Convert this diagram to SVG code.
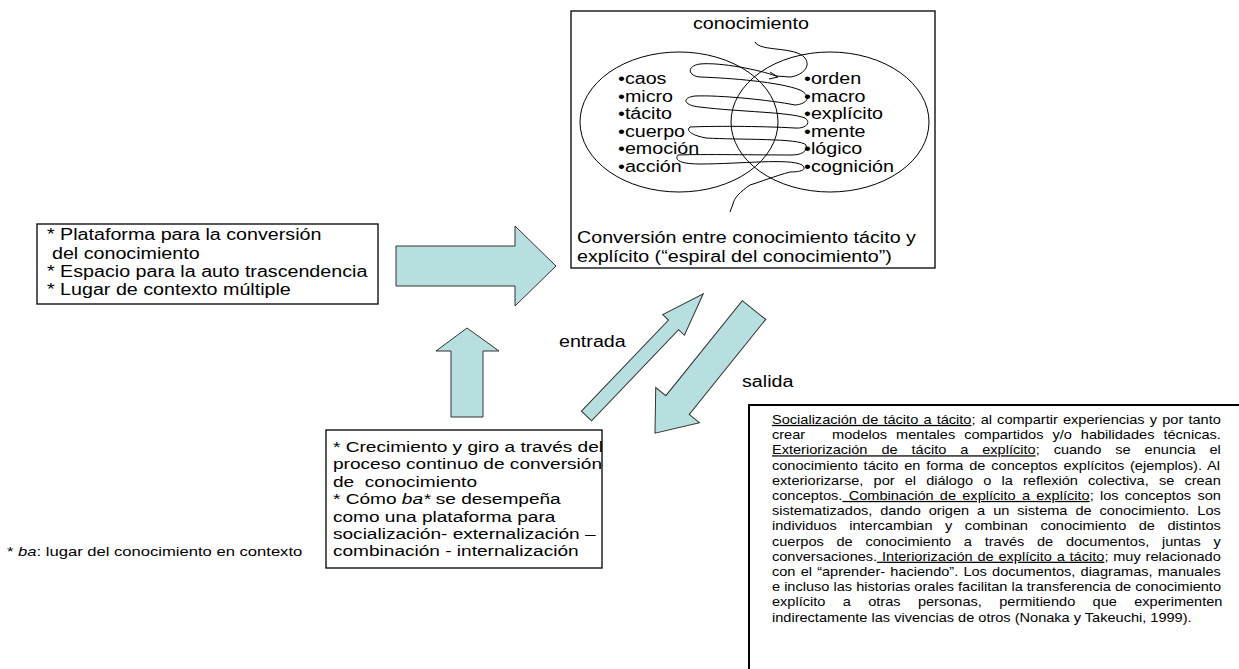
<svg xmlns="http://www.w3.org/2000/svg" width="1239" height="669" viewBox="0 0 1239 669">
<style>
.t{font-family:"Liberation Sans",Arial,sans-serif;fill:#000}
.f16{font-size:16px}
.f155{font-size:15.5px}
.f135{font-size:13.5px}
.f125{font-size:12.5px}
.box{fill:#fff;stroke:#000;stroke-width:1.3}
.arr{fill:#B7DFE0;stroke:#333;stroke-width:1}
.ln{fill:none;stroke:#000;stroke-width:1}
.u{text-decoration:underline}
</style>
<rect width="1239" height="669" fill="#fff"/>

<g id="espiral">
<rect class="box" x="571" y="11" width="364" height="257"/>
<text class="t f16" transform="translate(693,29) scale(1.23,1)">conocimiento</text>
<ellipse class="ln" cx="679" cy="122" rx="99" ry="70"/>
<ellipse class="ln" cx="830" cy="122" rx="99" ry="70"/>
<path class="ln" d="M 755,42 C 760,52 795,46 805,58 C 812,68 800,76 790,77 L 776,76 C 760,70 720,62 700,64 C 686,66 688,76 700,77 C 730,78 780,82 800,90 C 812,96 808,104 795,105 C 770,100 720,95 695,96 C 680,98 685,106 700,107 C 740,112 790,112 805,118 C 812,123 805,129 795,128 C 760,126 710,126 690,127 C 686,130 690,135 706,138 C 740,140 800,138 806,145 C 808,152 800,155 792,155 C 760,155 700,154 678,155 C 674,160 680,164 700,164 C 740,164 790,158 802,165 C 808,170 800,172 790,172 C 775,176 760,182 750,185 C 740,192 734,198 733,204 L 730,212"/>
<path class="ln" d="M 770,72 L 778,77 L 769,79"/>
<text class="t f16" transform="translate(618,84) scale(1.23,1)">•caos</text>
<text class="t f16" transform="translate(618,102) scale(1.23,1)">•micro</text>
<text class="t f16" transform="translate(618,119) scale(1.23,1)">•tácito</text>
<text class="t f16" transform="translate(618,137) scale(1.23,1)">•cuerpo</text>
<text class="t f16" transform="translate(618,154) scale(1.23,1)">•emoción</text>
<text class="t f16" transform="translate(618,172) scale(1.23,1)">•acción</text>
<text class="t f16" transform="translate(804,84) scale(1.23,1)">•orden</text>
<text class="t f16" transform="translate(804,102) scale(1.23,1)">•macro</text>
<text class="t f16" transform="translate(804,119) scale(1.23,1)">•explícito</text>
<text class="t f16" transform="translate(804,137) scale(1.23,1)">•mente</text>
<text class="t f16" transform="translate(804,154) scale(1.23,1)">•lógico</text>
<text class="t f16" transform="translate(804,172) scale(1.23,1)">•cognición</text>
<text class="t f16" transform="translate(577,243) scale(1.23,1)">Conversión entre conocimiento tácito y</text>
<text class="t f16" transform="translate(577,262) scale(1.23,1)">explícito (“espiral del conocimiento”)</text>
</g>

<g id="plataforma">
<rect class="box" x="37" y="224" width="341" height="80"/>
<text class="t f16" transform="translate(47,240) scale(1.23,1)">* Plataforma para la conversión</text>
<text class="t f16" transform="translate(52,258.5) scale(1.23,1)">del conocimiento</text>
<text class="t f16" transform="translate(47,277) scale(1.23,1)">* Espacio para la auto trascendencia</text>
<text class="t f16" transform="translate(47,295) scale(1.23,1)">* Lugar de contexto múltiple</text>
</g>

<g id="crecimiento">
<rect class="box" x="326" y="430" width="276" height="138"/>
<text class="t f155" transform="translate(333,452) scale(1.23,1)">* Crecimiento y giro a través del</text>
<text class="t f155" transform="translate(333,469.4) scale(1.23,1)">proceso continuo de conversión</text>
<text class="t f155" xml:space="preserve" transform="translate(333,486.8) scale(1.23,1)">de  conocimiento</text>
<text class="t f155" transform="translate(333,504.2) scale(1.23,1)">* Cómo <tspan font-style="italic">ba*</tspan> se desempeña</text>
<text class="t f155" transform="translate(333,521.6) scale(1.23,1)">como una plataforma para</text>
<text class="t f155" transform="translate(333,539) scale(1.23,1)">socialización- externalización –</text>
<text class="t f155" transform="translate(333,556.4) scale(1.23,1)">combinación - internalización</text>
</g>

<g id="nota">
<text class="t f135" transform="translate(7,556) scale(1.23,1)">* <tspan font-style="italic">ba</tspan>: lugar del conocimiento en contexto</text>
</g>

<g id="modos">
<rect x="749" y="405" width="520" height="300" fill="#fff" stroke="#000" stroke-width="2"/>
<g transform="translate(772,0) scale(1.165,1)">
<text class="t f125" x="0" y="424" word-spacing="0.955"><tspan class="u">Socialización de tácito a tácito</tspan>; al compartir experiencias y por tanto</text>
<text class="t f125" x="0" y="439.2" word-spacing="4.24" xml:space="preserve">crear   modelos mentales compartidos y/o habilidades técnicas.</text>
<text class="t f125" x="0" y="454.4" word-spacing="8.49"><tspan class="u">Exteriorización de tácito a explícito</tspan>; cuando se enuncia el</text>
<text class="t f125" x="0" y="469.6" word-spacing="1.54">conocimiento tácito en forma de conceptos explícitos (ejemplos). Al</text>
<text class="t f125" x="0" y="484.8" word-spacing="5.23">exteriorizarse, por el diálogo o la reflexión colectiva, se crean</text>
<text class="t f125" x="0" y="500" word-spacing="1.89">conceptos.<tspan class="u"> Combinación de explícito a explícito</tspan>; los conceptos son</text>
<text class="t f125" x="0" y="515.2" word-spacing="3.36">sistematizados, dando origen a un sistema de conocimiento. Los</text>
<text class="t f125" x="0" y="530.4" word-spacing="7.27">individuos intercambian y combinan conocimiento de distintos</text>
<text class="t f125" x="0" y="545.6" word-spacing="7.44">cuerpos de conocimiento a través de documentos, juntas y</text>
<text class="t f125" x="0" y="560.8" word-spacing="0.67">conversaciones.<tspan class="u"> Interiorización de explícito a tácito</tspan>; muy relacionado</text>
<text class="t f125" x="0" y="576" word-spacing="0.97">con el “aprender- haciendo”. Los documentos, diagramas, manuales</text>
<text class="t f125" x="0" y="591.2">e incluso las historias orales facilitan la transferencia de conocimiento</text>
<text class="t f125" x="0" y="606.4" word-spacing="11.43">explícito a otras personas, permitiendo que experimenten</text>
<text class="t f125" x="0" y="621.6">indirectamente las vivencias de otros (Nonaka y Takeuchi, 1999).</text>
</g>
</g>

<g id="conectores">
<polygon class="arr" points="396,246 515,246 515,226 556,266 515,306 515,286 396,286"/>
<polygon class="arr" points="451,417 451,351 436,351 467,328 499,351 483,351 483,417"/>
<polygon class="arr" transform="translate(586.5,416) rotate(-46.3)" points="0,-7 126,-7 126,-15 169,0 126,15 126,7 0,7"/>
<polygon class="arr" transform="translate(754,310) rotate(128.8)" points="0,-15 122,-15 122,-28 158,0 122,28 122,15 0,15"/>
<text class="t f16" transform="translate(559,347) scale(1.23,1)">entrada</text>
<text class="t f16" transform="translate(742,387) scale(1.23,1)">salida</text>
</g>
</svg>
